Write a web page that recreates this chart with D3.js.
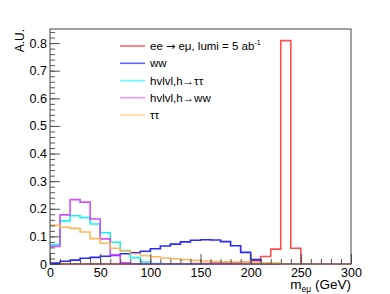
<!DOCTYPE html>
<html>
<head>
<meta charset="utf-8">
<script src="https://cdn.jsdelivr.net/npm/d3@7"></script>
<style>
  body { margin: 0; background: #fff; }
  text { font-family: "Liberation Sans", Arial, sans-serif; }
</style>
</head>
<body>
<div id="chart"></div>
<script>
// 30 bins of 10 GeV from 0 to 300
var binLow = d3.range(0, 300, 10)

var sigEEmu = [0, 0, 0, 0, 0, 0, 0, 0, 0, 0, 0.001, 0.001, 0.001, 0.001, 0.002, 0.002, 0.003, 0.003, 0.004, 0.006,
               0.012, 0.027, 0.054, 0.809, 0.057, 0, 0, 0, 0, 0]
var bkgWW = [0.003, 0.010, 0.014, 0.021, 0.024, 0.028, 0.031, 0.037, 0.041, 0.046, 0.055, 0.065, 0.072, 0.080, 0.086, 0.088,
             0.087, 0.081, 0.066, 0.042, 0.016, 0, 0, 0, 0, 0, 0, 0, 0, 0]
var bkgHtt = [0.070, 0.156, 0.175, 0.168, 0.145, 0.113, 0.079, 0.049, 0.023, 0.007, 0.002, 0, 0, 0, 0, 0, 0, 0, 0, 0,
              0, 0, 0, 0, 0, 0, 0, 0, 0, 0]
var bkgHww = [0.064, 0.178, 0.233, 0.224, 0.163, 0.091, 0.033, 0.004, 0.001, 0, 0, 0, 0, 0, 0, 0, 0, 0, 0, 0,
              0, 0, 0, 0, 0, 0, 0, 0, 0, 0]
var bkgTauTau = [0.140, 0.133, 0.129, 0.116, 0.092, 0.075, 0.057, 0.047, 0.037, 0.030, 0.026, 0.022, 0.019, 0.016, 0.013,
                 0.011, 0.009, 0.008, 0.007, 0.006, 0.005, 0.004, 0.003, 0, 0, 0, 0, 0, 0, 0]

var seriesNames = ["ee \u2192 e\u03bc, lumi = 5 ab", "ww", "hvlvl,h\u2192\u03c4\u03c4", "hvlvl,h\u2192ww", "\u03c4\u03c4"]
var xTicks = [0, 50, 100, 150, 200, 250, 300]
var yTicks = [0, 0.1, 0.2, 0.3, 0.4, 0.5, 0.6, 0.7, 0.8]

var W = 390, H = 294
var padL = 50, padR = 351, padT = 29, padB = 264

var svg = d3.select("#chart").append("svg")
    .attr("width", W).attr("height", H)

var x = d3.scaleLinear().domain([0, 300]).range([padL, padR])
var y = d3.scaleLinear().domain([0, 0.851]).range([padB, padT])

var hists = [
    { vals: sigEEmu, color: "#ff3b3b" },
    { vals: bkgWW, color: "#1010ff" },
    { vals: bkgHtt, color: "#00eeee" },
    { vals: bkgHww, color: "#cc3cff" },
    { vals: bkgTauTau, color: "#ffb04a" }
]
var legendColors = ["#ff6666", "#6666ff", "#66ffff", "#e699ff", "#ffd699"]

var line = d3.line()
    .x(d => x(d[0]))
    .y(d => y(d[1]))
    .curve(d3.curveStepAfter)

var plot = svg.append("g")
plot.selectAll(".hist")
    .data(hists).enter()
    .append("path")
    .attr("class", "hist")
    .attr("fill", "none")
    .attr("stroke", d => d.color)
    .attr("stroke-width", 1.6)
    .attr("stroke-opacity", 0.9)
    .attr("d", d => {
        var pts = binLow.map((b, i) => [b, d.vals[i]])
        pts.push([300, d.vals[d.vals.length - 1]])
        return line(pts)
    })

// axes, ROOT style ticks pointing inward
var yMinor = d3.range(0, 0.851, 0.02)
var xMinor = d3.range(0, 301, 10)

svg.append("g")
    .attr("transform", `translate(${padL},0)`)
    .call(d3.axisLeft(y).tickValues(yMinor).tickSize(-5).tickFormat(""))
svg.append("g")
    .attr("class", "yaxis")
    .attr("transform", `translate(${padL},0)`)
    .call(d3.axisLeft(y).tickValues(yTicks).tickSize(-10).tickPadding(3)
        .tickFormat(d => d === 0 ? "0" : d3.format(".1f")(d)))

svg.append("g")
    .attr("transform", `translate(0,${padB})`)
    .call(d3.axisBottom(x).tickValues(xMinor).tickSize(-5).tickFormat(""))
svg.append("g")
    .attr("class", "xaxis")
    .attr("transform", `translate(0,${padB})`)
    .call(d3.axisBottom(x).tickValues(xTicks).tickSize(-10).tickPadding(4))

svg.selectAll(".domain").remove()
svg.selectAll(".tick line").attr("stroke", "#555")
svg.selectAll(".tick text")
    .attr("fill", "#000")
    .style("font-size", "12.5px")
    .style("font-family", "'Liberation Sans', Arial, sans-serif")

// frame
svg.append("rect")
    .attr("x", padL).attr("y", padT)
    .attr("width", padR - padL).attr("height", padB - padT)
    .attr("fill", "none").attr("stroke", "#444").attr("stroke-width", 1)

// axis titles
svg.append("text")
    .attr("transform", `translate(24,${padT}) rotate(-90)`)
    .attr("text-anchor", "end")
    .style("font-size", "12px")
    .text("A.U.")

var xt = svg.append("text")
    .attr("x", padR).attr("y", 289)
    .attr("text-anchor", "end")
    .style("font-size", "13.5px")
xt.append("tspan").text("m")
xt.append("tspan").attr("dy", 2.5).style("font-size", "8.5px").text("e\u03bc")
xt.append("tspan").attr("dy", -2.5).text(" (GeV)")

// legend
var legY = [46, 63.3, 80.7, 97.7, 115]
var leg = svg.append("g")
leg.selectAll("line")
    .data(seriesNames).enter()
    .append("line")
    .attr("x1", 120).attr("x2", 145)
    .attr("y1", (d, i) => legY[i]).attr("y2", (d, i) => legY[i])
    .attr("stroke", (d, i) => legendColors[i])
    .attr("stroke-width", 1.6)

leg.selectAll("text")
    .data(seriesNames).enter()
    .append("text")
    .attr("x", 150)
    .attr("y", (d, i) => legY[i] + 4)
    .style("font-size", "11.5px")
    .attr("fill", "#000")
    .each(function (d, i) {
        var t = d3.select(this)
        if (i === 0) {
            // the first entry uses a wider arrow, like ROOT's #rightarrow
            var parts = d.split("\u2192")
            t.append("tspan").text(parts[0])
            t.append("tspan").style("font-family", "'DejaVu Sans'").style("font-size", "11px").text("\u2192")
            t.append("tspan").text(parts[1])
            t.append("tspan").attr("dy", -5).style("font-size", "7px").text("-1")
        } else {
            t.append("tspan").text(d)
        }
    })
</script>
</body>
</html>
